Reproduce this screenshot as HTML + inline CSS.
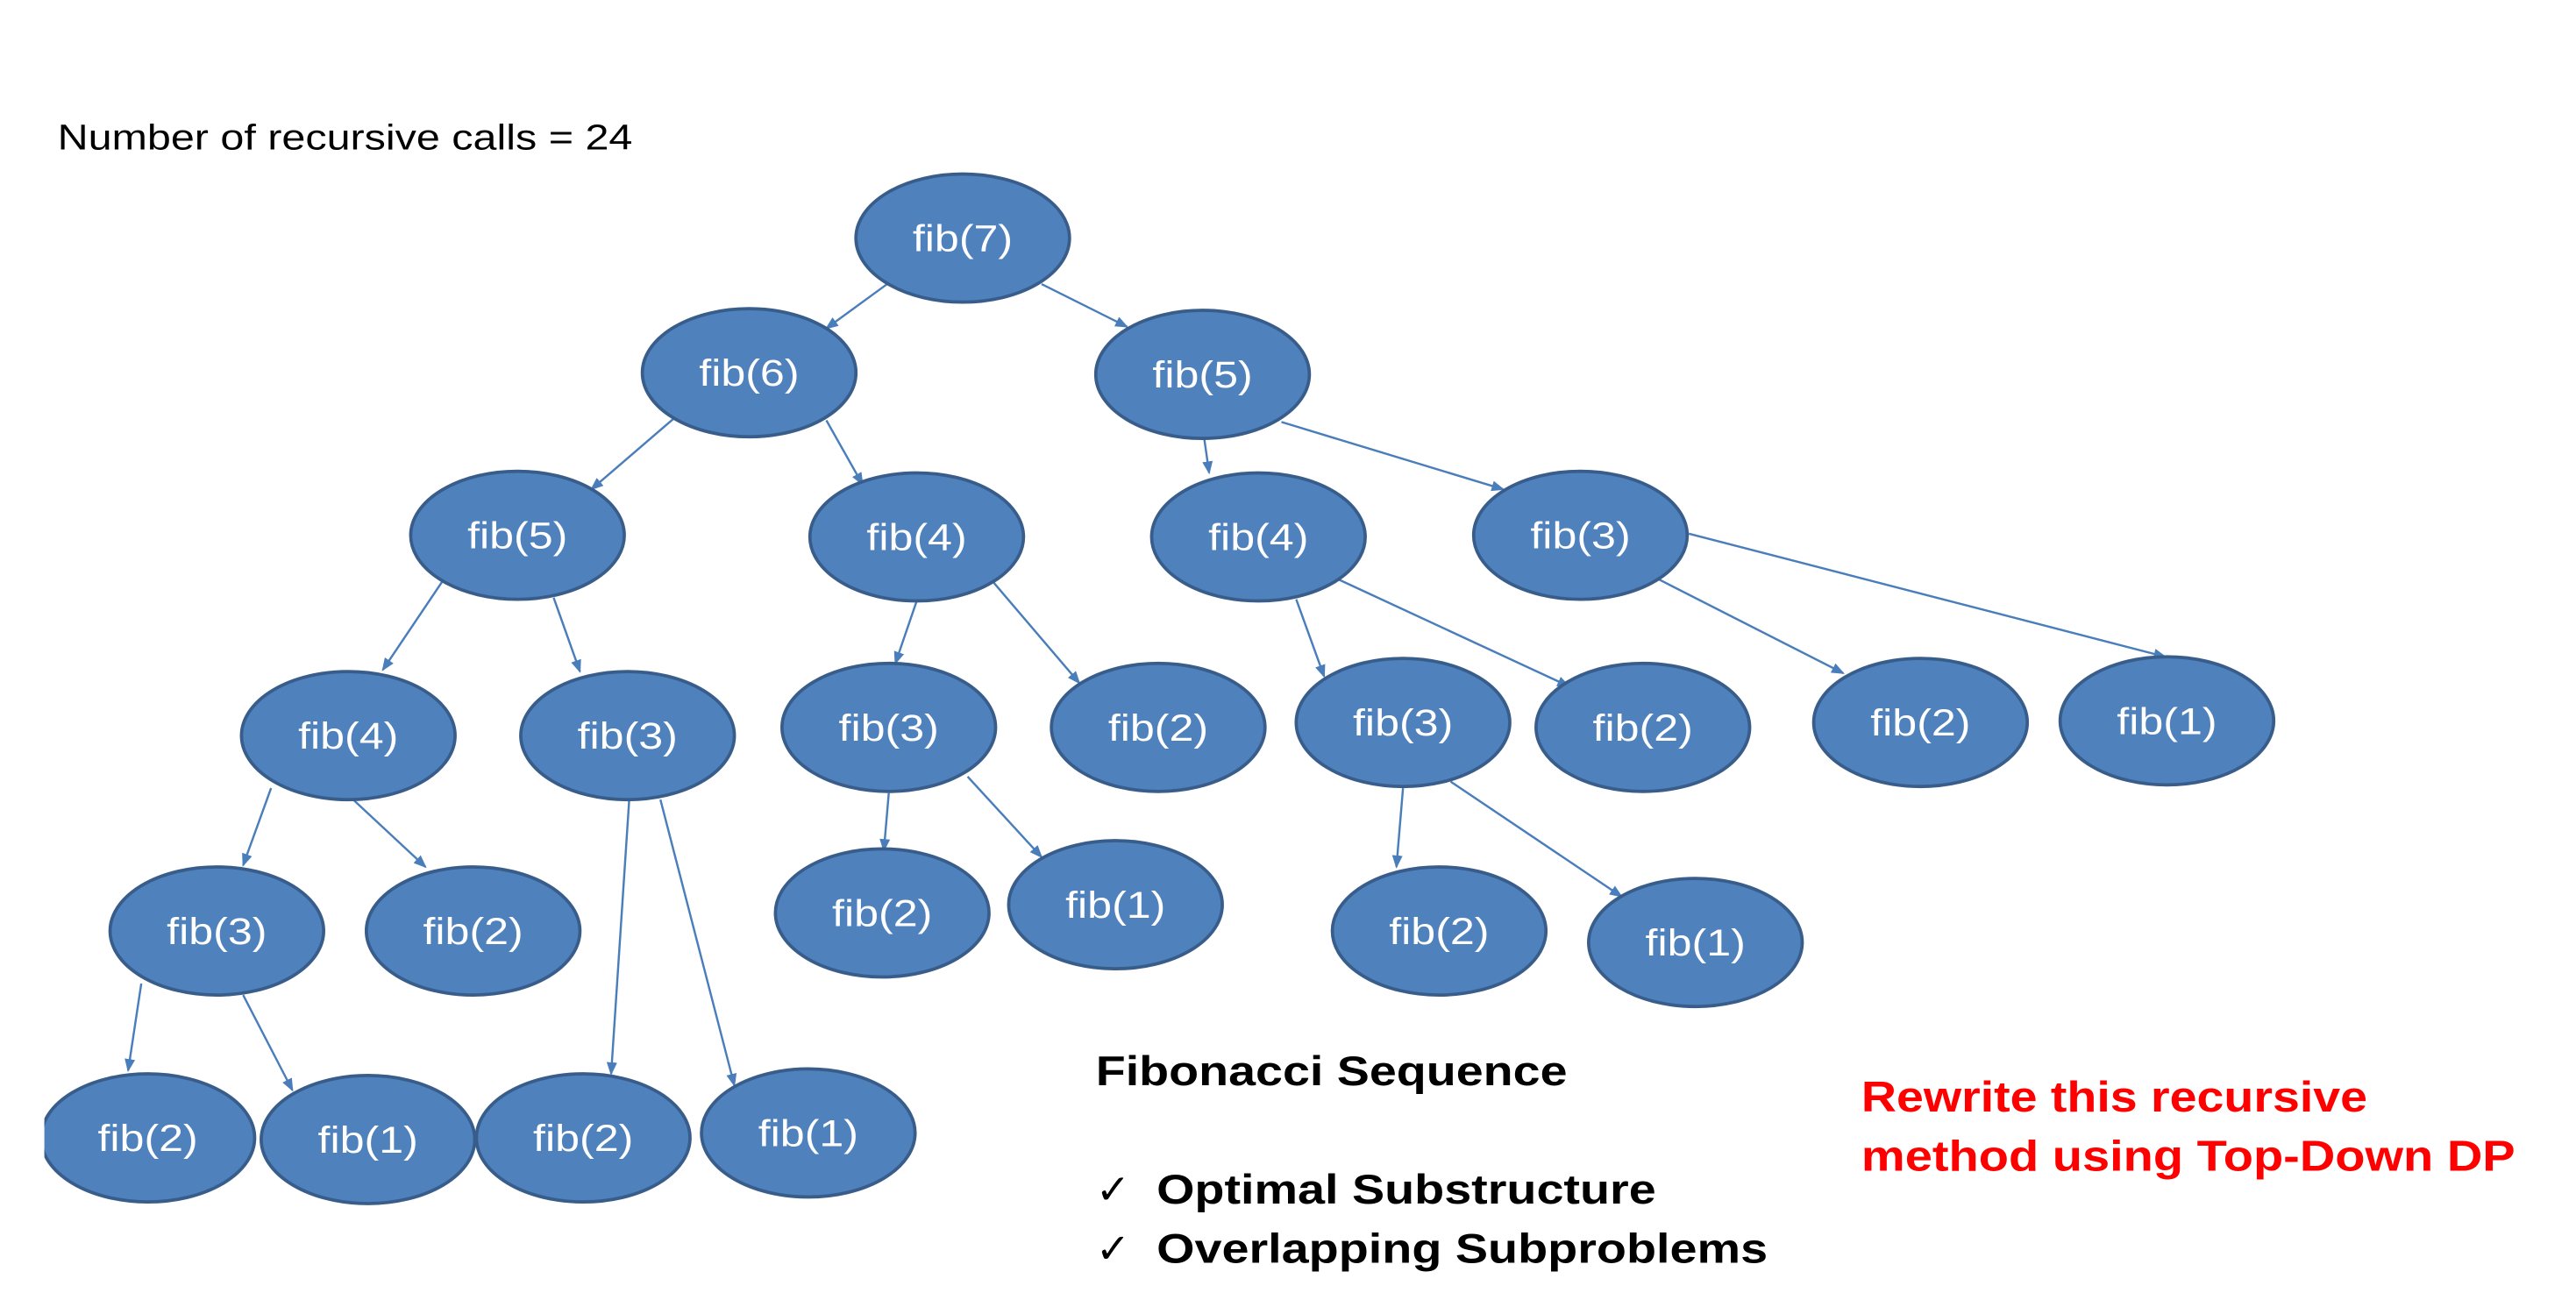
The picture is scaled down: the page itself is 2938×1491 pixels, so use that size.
<!DOCTYPE html>
<html><head><meta charset="utf-8"><style>
html,body{margin:0;padding:0;background:#fff}
svg{display:block}
</style></head><body>
<svg width="2938" height="1491" viewBox="0 0 1568 796" preserveAspectRatio="none" xmlns="http://www.w3.org/2000/svg">
<defs>
<marker id="a" markerWidth="8" markerHeight="8" refX="7" refY="4" orient="auto" markerUnits="userSpaceOnUse">
<path d="M0,0.8 L8,4 L0,7.2 Z" fill="#4a7ebb"/>
</marker>
<clipPath id="c"><rect x="27" y="0" width="1541" height="796"/></clipPath>
</defs>
<rect width="1568" height="796" fill="#fff"/>
<text x="35" y="91" font-family="Liberation Sans, sans-serif" font-size="22" fill="#000" textLength="350" lengthAdjust="spacingAndGlyphs">Number of recursive calls = 24</text>
<g stroke="#4a7ebb" stroke-width="1.3" fill="none" marker-end="url(#a)">
<line x1="540" y1="173" x2="503" y2="200"/>
<line x1="634" y1="173" x2="686" y2="199"/>
<line x1="410" y1="255" x2="360" y2="298"/>
<line x1="503" y1="256" x2="525" y2="295"/>
<line x1="733" y1="267" x2="736" y2="288"/>
<line x1="780" y1="257" x2="915" y2="298"/>
<line x1="270" y1="353" x2="233" y2="408"/>
<line x1="337" y1="364" x2="353" y2="409"/>
<line x1="558" y1="366" x2="545" y2="404"/>
<line x1="605" y1="355" x2="657" y2="416"/>
<line x1="789" y1="365" x2="806" y2="412"/>
<line x1="815" y1="353" x2="955" y2="418"/>
<line x1="1010" y1="353" x2="1122" y2="410"/>
<line x1="1028" y1="325" x2="1318" y2="400"/>
<line x1="165" y1="480" x2="148" y2="527"/>
<line x1="215" y1="487" x2="259" y2="528"/>
<line x1="383" y1="487" x2="372" y2="654"/>
<line x1="402" y1="487" x2="447" y2="661"/>
<line x1="541" y1="483" x2="538" y2="518"/>
<line x1="589" y1="473" x2="634" y2="522"/>
<line x1="854" y1="480" x2="850" y2="528"/>
<line x1="883" y1="476" x2="987" y2="546"/>
<line x1="86" y1="599" x2="78" y2="652"/>
<line x1="148" y1="606" x2="178" y2="664"/>
</g>
<g fill="#4f81bd" stroke="#385d8a" stroke-width="2" clip-path="url(#c)">
<ellipse cx="586" cy="145" rx="65" ry="39"/>
<ellipse cx="456" cy="227" rx="65" ry="39"/>
<ellipse cx="732" cy="228" rx="65" ry="39"/>
<ellipse cx="315" cy="326" rx="65" ry="39"/>
<ellipse cx="558" cy="327" rx="65" ry="39"/>
<ellipse cx="766" cy="327" rx="65" ry="39"/>
<ellipse cx="962" cy="326" rx="65" ry="39"/>
<ellipse cx="212" cy="448" rx="65" ry="39"/>
<ellipse cx="382" cy="448" rx="65" ry="39"/>
<ellipse cx="541" cy="443" rx="65" ry="39"/>
<ellipse cx="705" cy="443" rx="65" ry="39"/>
<ellipse cx="854" cy="440" rx="65" ry="39"/>
<ellipse cx="1000" cy="443" rx="65" ry="39"/>
<ellipse cx="1169" cy="440" rx="65" ry="39"/>
<ellipse cx="1319" cy="439" rx="65" ry="39"/>
<ellipse cx="132" cy="567" rx="65" ry="39"/>
<ellipse cx="288" cy="567" rx="65" ry="39"/>
<ellipse cx="537" cy="556" rx="65" ry="39"/>
<ellipse cx="679" cy="551" rx="65" ry="39"/>
<ellipse cx="876" cy="567" rx="65" ry="39"/>
<ellipse cx="1032" cy="574" rx="65" ry="39"/>
<ellipse cx="90" cy="693" rx="65" ry="39"/>
<ellipse cx="224" cy="694" rx="65" ry="39"/>
<ellipse cx="355" cy="693" rx="65" ry="39"/>
<ellipse cx="492" cy="690" rx="65" ry="39"/>
</g>
<g fill="#fff" font-family="Liberation Sans, sans-serif" font-size="23" text-anchor="middle">
<text x="586" y="153" textLength="61" lengthAdjust="spacingAndGlyphs">fib(7)</text>
<text x="456" y="235" textLength="61" lengthAdjust="spacingAndGlyphs">fib(6)</text>
<text x="732" y="236" textLength="61" lengthAdjust="spacingAndGlyphs">fib(5)</text>
<text x="315" y="334" textLength="61" lengthAdjust="spacingAndGlyphs">fib(5)</text>
<text x="558" y="335" textLength="61" lengthAdjust="spacingAndGlyphs">fib(4)</text>
<text x="766" y="335" textLength="61" lengthAdjust="spacingAndGlyphs">fib(4)</text>
<text x="962" y="334" textLength="61" lengthAdjust="spacingAndGlyphs">fib(3)</text>
<text x="212" y="456" textLength="61" lengthAdjust="spacingAndGlyphs">fib(4)</text>
<text x="382" y="456" textLength="61" lengthAdjust="spacingAndGlyphs">fib(3)</text>
<text x="541" y="451" textLength="61" lengthAdjust="spacingAndGlyphs">fib(3)</text>
<text x="705" y="451" textLength="61" lengthAdjust="spacingAndGlyphs">fib(2)</text>
<text x="854" y="448" textLength="61" lengthAdjust="spacingAndGlyphs">fib(3)</text>
<text x="1000" y="451" textLength="61" lengthAdjust="spacingAndGlyphs">fib(2)</text>
<text x="1169" y="448" textLength="61" lengthAdjust="spacingAndGlyphs">fib(2)</text>
<text x="1319" y="447" textLength="61" lengthAdjust="spacingAndGlyphs">fib(1)</text>
<text x="132" y="575" textLength="61" lengthAdjust="spacingAndGlyphs">fib(3)</text>
<text x="288" y="575" textLength="61" lengthAdjust="spacingAndGlyphs">fib(2)</text>
<text x="537" y="564" textLength="61" lengthAdjust="spacingAndGlyphs">fib(2)</text>
<text x="679" y="559" textLength="61" lengthAdjust="spacingAndGlyphs">fib(1)</text>
<text x="876" y="575" textLength="61" lengthAdjust="spacingAndGlyphs">fib(2)</text>
<text x="1032" y="582" textLength="61" lengthAdjust="spacingAndGlyphs">fib(1)</text>
<text x="90" y="701" textLength="61" lengthAdjust="spacingAndGlyphs">fib(2)</text>
<text x="224" y="702" textLength="61" lengthAdjust="spacingAndGlyphs">fib(1)</text>
<text x="355" y="701" textLength="61" lengthAdjust="spacingAndGlyphs">fib(2)</text>
<text x="492" y="698" textLength="61" lengthAdjust="spacingAndGlyphs">fib(1)</text>
</g>
<g font-family="Liberation Sans, sans-serif" font-weight="bold" font-size="25">
<text x="667" y="661" fill="#000" textLength="287" lengthAdjust="spacingAndGlyphs">Fibonacci Sequence</text>
<text x="667" y="733" fill="#000" font-weight="normal">✓</text>
<text x="704" y="733" fill="#000" textLength="304" lengthAdjust="spacingAndGlyphs">Optimal Substructure</text>
<text x="667" y="769" fill="#000" font-weight="normal">✓</text>
<text x="704" y="769" fill="#000" textLength="372" lengthAdjust="spacingAndGlyphs">Overlapping Subproblems</text>
<text x="1133" y="677" fill="#ff0000" font-size="26" textLength="308" lengthAdjust="spacingAndGlyphs">Rewrite this recursive</text>
<text x="1133" y="713" fill="#ff0000" font-size="26" textLength="398" lengthAdjust="spacingAndGlyphs">method using Top-Down DP</text>
</g>
</svg>
</body></html>
